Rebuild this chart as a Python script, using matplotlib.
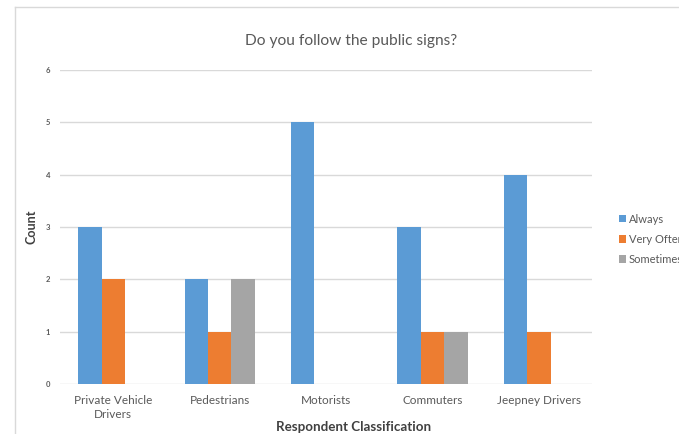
import numpy as np
import matplotlib.pyplot as plt
from matplotlib.lines import Line2D

groups = ['Private Vehicle\nDrivers', 'Pedestrians', 'Motorists', 'Commuters', 'Jeepney Drivers']
series_names = ['Always', 'Very Often', 'Sometimes']
always = [3, 2, 5, 3, 4]
very_often = [2, 1, 0, 1, 1]
sometimes = [0, 2, 0, 1, 0]
colors = ['#5B9BD5', '#ED7D31', '#A5A5A5']

plt.rcParams['font.family'] = ['Lato', 'DejaVu Sans']

fig = plt.figure(figsize=(6.79, 4.34), dpi=100)
ax = fig.add_axes([0.0884, 0.1152, 0.7835, 0.7235])

x = np.arange(len(groups))
w = 0.22
for i, (vals, name) in enumerate(zip([always, very_often, sometimes], series_names)):
    ax.bar(x + (i - 1) * w, vals, width=w, color=colors[i], label=name, zorder=3)

ax.set_xlim(-0.5, len(groups) - 0.5)
ax.set_ylim(0, 6)
ax.set_yticks(range(7))
ax.grid(axis='y', color='#D9D9D9', linewidth=1, zorder=0)
for s in ax.spines.values():
    s.set_visible(False)
ax.tick_params(axis='both', length=0)
ax.tick_params(axis='y', labelsize=5.5, labelcolor='#595959', pad=7)
ax.tick_params(axis='x', labelsize=8.5, labelcolor='#595959', pad=8)
for t in ax.get_yticklabels():
    t.set_fontweight('bold')
ax.set_xticks(x)
ax.set_xticklabels(groups, linespacing=1.3)

# title sits over the whole chart, not just the plot area
fig.text(0.517, 0.905, 'Do you follow the public signs?', fontsize=11.2,
         color='#595959', ha='center', va='center')
ax.set_xlabel('Respondent Classification', fontsize=9.6, fontweight='bold', color='#404040')
ax.xaxis.set_label_coords(0.551, -0.118)
ax.set_ylabel('Count', fontsize=9, fontweight='bold', color='#404040')
ax.yaxis.set_label_coords(-0.043, 0.5)

fig.legend(loc='upper left', bbox_to_anchor=(0.905, 0.518), frameon=False,
           fontsize=8, labelcolor='#595959', handlelength=0.65, handleheight=0.65,
           handletextpad=0.25, labelspacing=0.82, borderaxespad=0)

# chart frame, light gray, top and left edges
fig.add_artist(Line2D([0.0221, 0.0221], [0, 0.984], color='#D9D9D9', lw=1, transform=fig.transFigure))
fig.add_artist(Line2D([0.0221, 1], [0.984, 0.984], color='#D9D9D9', lw=1, transform=fig.transFigure))

fig.savefig('out.png', dpi=100, facecolor='white')
